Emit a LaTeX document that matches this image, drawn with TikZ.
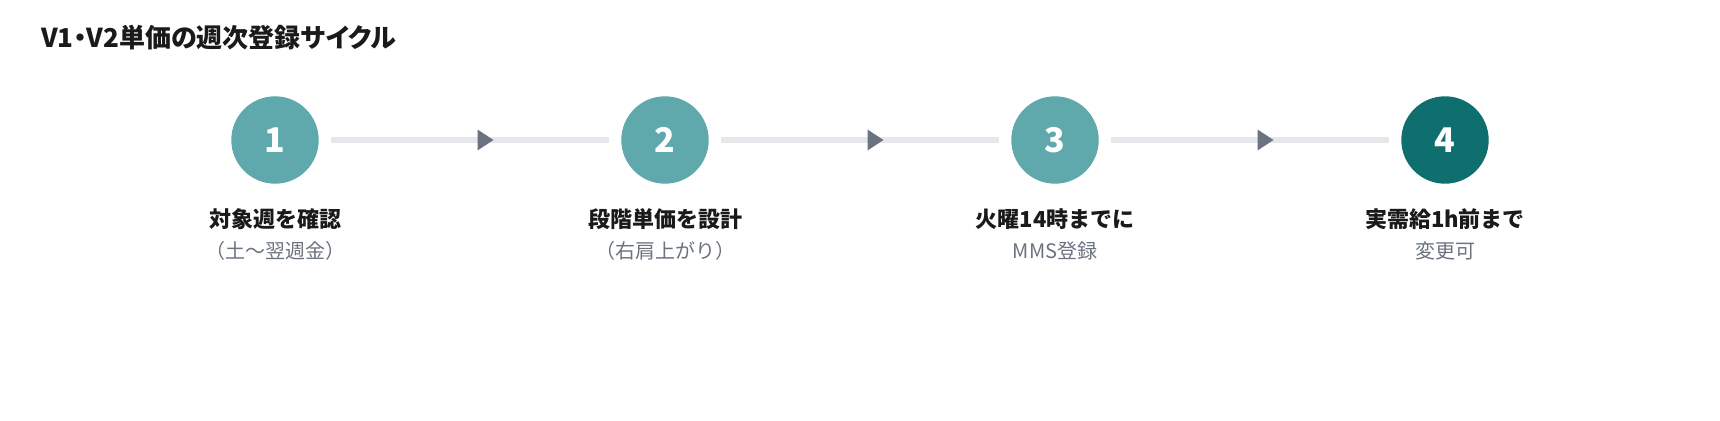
\documentclass[tikz,border=0pt]{standalone}
\usepackage{fontspec}
\setmainfont{Noto Sans CJK JP}
\newfontfamily\titlefont[RawFeature=+palt]{Noto Sans CJK JP}
\usetikzlibrary{calc}
\definecolor{teal1}{HTML}{5FA8AB}
\definecolor{teal2}{HTML}{0F6E6E}
\definecolor{linec}{HTML}{E5E7EB}
\definecolor{arrowc}{HTML}{6B7280}
\definecolor{textc}{HTML}{1A1A1A}
\definecolor{subc}{HTML}{6B7280}
\tikzset{
  stepcircle/.style={circle, fill=teal1, minimum size=87.4pt, inner sep=0pt, text=white,
    font=\fontsize{34}{34}\selectfont\bfseries},
  stepdark/.style={stepcircle, fill=teal2},
  conn/.style={draw=linec, line width=6pt, shorten <=12pt, shorten >=12pt},
  mainlabel/.style={anchor=base, inner sep=0pt, text=textc, font=\fontsize{22}{22}\selectfont\bfseries},
  sublabel/.style={anchor=base, inner sep=0pt, text=subc, font=\fontsize{20}{20}\selectfont},
  titlelabel/.style={anchor=base west, inner sep=0pt, text=textc, font=\titlefont\fontsize{26}{26}\selectfont\bfseries},
}
\newcommand{\midarrow}[2]{%
  \coordinate (m#1#2) at ($(#1)!0.5!(#2)$);
  \fill[arrowc] ($(m#1#2)+(7.5,10.5)$) -- ($(m#1#2)+(23.5,0)$) -- ($(m#1#2)+(7.5,-10.5)$) -- cycle;
}
\begin{document}
\begin{tikzpicture}[x=1pt,y=-1pt]
\useasboundingbox (0,0) rectangle (1720,420);
\node[titlelabel] (title) at (41,48) {V1・V2単価の週次登録サイクル};

\node[stepcircle] (c1) at (275,140) {1};
\node[stepcircle] (c2) at (665,140) {2};
\node[stepcircle] (c3) at (1055,140) {3};
\node[stepdark] (c4) at (1445,140) {4};

\draw[conn] (c1) -- (c2);
\draw[conn] (c2) -- (c3);
\draw[conn] (c3) -- (c4);
\midarrow{c1}{c2}
\midarrow{c2}{c3}
\midarrow{c3}{c4}

\node[mainlabel] (l1) at (275,227) {対象週を確認};
\node[sublabel] (s1) at (275,258) {（土〜翌週金）};
\node[mainlabel] (l2) at (665,227) {段階単価を設計};
\node[sublabel] (s2) at (665,258) {（右肩上がり）};
\node[mainlabel] (l3) at (1055,227) {火曜14時までに};
\node[sublabel] (s3) at (1055,258) {MMS登録};
\node[mainlabel] (l4) at (1445,227) {実需給1h前まで};
\node[sublabel] (s4) at (1445,258) {変更可};
\end{tikzpicture}
\end{document}
